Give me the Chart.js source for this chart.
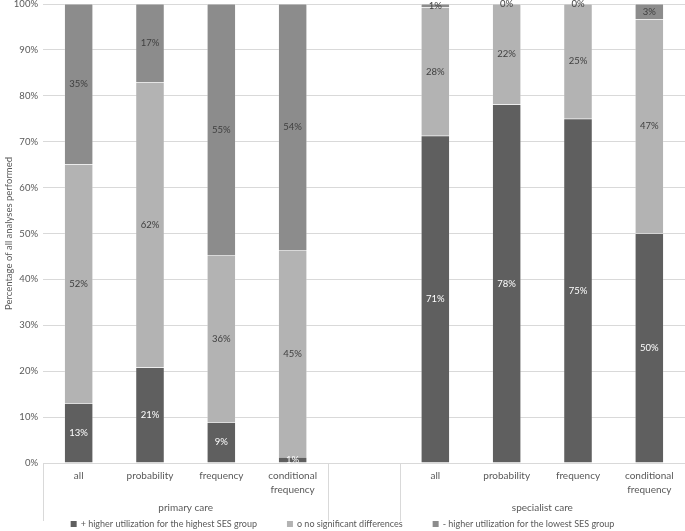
<!DOCTYPE html>
<html>
<head>
<meta charset="utf-8">
<script src="https://cdn.jsdelivr.net/npm/chart.js@4.4.1/dist/chart.umd.min.js"></script>
<style>
  html, body { margin: 0; padding: 0; background: #fff; }
  #wrap { width: 685px; height: 531px; }
</style>
</head>
<body>
<div id="wrap"><canvas id="chart"></canvas></div>
<script>
// categories (index 4 is the empty spacer between the two groups)
const categories = [["all"], ["probability"], ["frequency"], ["conditional", "frequency"], [""],
                    ["all"], ["probability"], ["frequency"], ["conditional", "frequency"]];
const groups = [
  { label: "primary care", from: 0, to: 3 },
  { label: "specialist care", from: 5, to: 8 }
];
const seriesNames = [
  "+ higher utilization for the highest SES group",
  "o no significant differences",
  "- higher utilization for the lowest SES group"
];
const highest = [13.0, 20.8, 8.9, 1.3, null, 71.3, 78.1, 75.0, 50.0];
const noDiff  = [52.1, 62.1, 36.4, 45.1, null, 28.0, 21.9, 25.0, 46.7];
const lowest  = [34.9, 17.1, 54.7, 53.6, null, 0.7, 0, 0, 3.3];
const yTicks = [0, 10, 20, 30, 40, 50, 60, 70, 80, 90, 100];

const colors = ["#5f5f5f", "#b3b3b3", "#8c8c8c"];
const labelColors = ["#ffffff", "#404040", "#404040"];
const FONT = "Lato";

const overlay = {
  id: "overlay",
  afterDatasetsDraw(chart) {
    const ctx = chart.ctx;

    // value labels, centred in each segment
    ctx.save();
    ctx.font = "9.5px " + FONT;
    ctx.textAlign = "center";
    ctx.textBaseline = "middle";
    chart.data.datasets.forEach((ds, di) => {
      const meta = chart.getDatasetMeta(di);
      meta.data.forEach((el, i) => {
        const v = ds.data[i];
        if (v === null) return;
        ctx.fillStyle = labelColors[di];
        ctx.fillText(Math.round(v) + "%", el.x, (el.y + el.base) / 2);
      });
    });
    ctx.restore();
  },
  afterDraw(chart) {
    const ctx = chart.ctx;
    const area = chart.chartArea;
    const x = chart.scales.x;
    const step = x.getPixelForValue(1) - x.getPixelForValue(0);

    ctx.save();
    // separators of the two-level category axis
    ctx.strokeStyle = "#d9d9d9";
    ctx.lineWidth = 1;
    [-0.5, 3.5, 4.5, 8.5].forEach(p => {
      const px = Math.round(x.getPixelForValue(0) + p * step) + 0.5;
      ctx.beginPath();
      ctx.moveTo(px, area.bottom);
      ctx.lineTo(px, area.bottom + 58);
      ctx.stroke();
    });

    ctx.fillStyle = "#595959";
    ctx.font = "10px " + FONT;
    ctx.textAlign = "center";
    ctx.textBaseline = "middle";
    categories.forEach((lines, i) => {
      const cx = x.getPixelForValue(i);
      lines.forEach((t, k) => ctx.fillText(t, cx, area.bottom + 13 + k * 14));
    });
    groups.forEach(g => {
      const cx = (x.getPixelForValue(g.from) + x.getPixelForValue(g.to)) / 2;
      ctx.fillText(g.label, cx, area.bottom + 45);
    });

    // legend
    ctx.font = "9px " + FONT;
    ctx.textAlign = "left";
    const box = 6, gapBox = 4, gapItem = 30;
    const widths = seriesNames.map(n => box + gapBox + ctx.measureText(n).width);
    const total = widths.reduce((a, b) => a + b, 0) + gapItem * (widths.length - 1);
    let lx = (chart.width - total) / 2;
    const ly = 524;
    seriesNames.forEach((n, i) => {
      ctx.fillStyle = colors[i];
      ctx.fillRect(lx, ly - box / 2, box, box);
      ctx.fillStyle = "#595959";
      ctx.fillText(n, lx + box + gapBox, ly);
      lx += widths[i] + gapItem;
    });
    ctx.restore();
  }
};

new Chart(document.getElementById("chart"), {
  type: "bar",
  data: {
    labels: categories.map(c => c.join(" ")),
    datasets: [highest, noDiff, lowest].map((d, i) => ({
      label: seriesNames[i],
      data: d,
      backgroundColor: colors[i],
      borderColor: "rgba(255,255,255,0.5)",
      borderWidth: 0.5,
      barPercentage: 0.4,
      categoryPercentage: 1
    }))
  },
  options: {
    responsive: true,
    maintainAspectRatio: false,
    animation: false,
    layout: { padding: { top: 4, left: 0, right: 0, bottom: 0 } },
    plugins: { legend: { display: false }, tooltip: { enabled: false } },
    scales: {
      x: {
        stacked: true,
        grid: { display: false },
        border: { color: "#d9d9d9" },
        ticks: { display: false },
        afterFit: s => { s.height = 68; }
      },
      y: {
        stacked: true,
        min: 0,
        max: 100,
        afterBuildTicks: s => { s.ticks = yTicks.map(v => ({ value: v })); },
        ticks: {
          callback: v => v + "%",
          color: "#595959",
          font: { family: FONT, size: 9.5 },
          padding: 5
        },
        grid: { color: "#d9d9d9", drawTicks: false },
        border: { display: false },
        title: {
          display: true,
          text: "Percentage of all analyses performed",
          color: "#595959",
          font: { family: FONT, size: 9.5 },
          padding: { top: 3, bottom: 0 }
        },
        afterFit: s => { s.width = 43; s.paddingTop = 0; s.paddingBottom = 0; }
      }
    }
  },
  plugins: [overlay]
});
</script>
</body>
</html>
